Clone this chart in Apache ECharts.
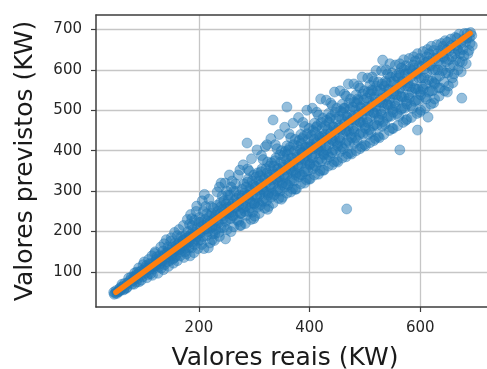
<!DOCTYPE html>
<html>
<head>
<meta charset="utf-8">
<script src="https://cdn.jsdelivr.net/npm/echarts@6/dist/echarts.min.js"></script>
<style>
  html, body { margin: 0; padding: 0; background: #fff; }
  #chart { width: 487px; height: 369px; }
</style>
</head>
<body>
<div id="chart"></div>
<script>
// Real (x) vs predicted (y) power, in KW, grouped by stretches of the real value
const obsLow = [
  [47,45],[50,54],[46,50],[53,51],[58,62],[55,52],[59,56],[52,47],[56,58],[49,48],[57,53],
  [62,64],[65,58],[61,70],[68,67],[73,85],[70,62],[77,74],[66,72],[79,70],[75,79],[64,56],[71,73],[78,88],[69,60],
  [82,88],[87,75],[84,98],[95,92],[91,110],[89,84],[98,88],[81,79],[93,101],[86,92],[99,118],[96,80],[83,70],[90,95],[97,104],[85,86],[92,76],[88,100],
  [104,98],[101,125],[112,118],[108,94],[117,107],[103,110],[115,140],[110,106],[106,86],[119,124],[102,104],[113,96],[109,131],[118,113],[105,116],[116,92],[111,121],[107,109],[114,112],[120,146],
  [123,131],[127,112],[121,150],[134,128],[138,118],[125,124],[131,162],[129,140],[136,106],[122,115],[139,146],[133,136],[126,97],[137,170],[124,138],[130,121],[140,133],[128,127],[135,152],[132,110],[121,119],[138,141],
  [143,148],[147,128],[141,180],[152,161],[158,139],[145,114],[155,150],[149,176],[156,198],[142,138],[159,165],[151,140],[146,155],[154,122],[148,150],[157,172],[144,162],[153,132],[160,154],[150,185],[142,125],[158,158],[147,145],[155,135],
  [163,170],[167,150],[172,215],[178,174],[161,128],[175,190],[169,162],[164,205],[177,145],[171,180],[166,140],[180,200],[162,158],[174,163],[168,188],[179,230],[173,136],[165,175],[176,160],[170,165],[161,190],[178,185],[167,168],[175,150],[172,178],[164,155],
  [182,188],[187,160],[195,250],[183,218],[199,195],[190,175],[184,140],[197,210],[192,228],[186,194],[181,172],[198,158],[189,205],[194,182],[185,242],[191,148],[196,188],[188,215],[200,224],[183,176],[193,198],[187,232],[199,178],[182,160],[190,190],[196,263],[185,186],[192,168]
];

const obsMid = [
  [203,210],[208,250],[214,190],[221,225],[205,168],[218,280],[210,205],[224,212],[201,235],[216,200],[207,188],[212,262],[220,172],[204,224],[223,245],[209,158],[215,218],[202,196],[219,238],[211,230],[206,276],[225,195],[213,207],[217,160],[222,262],[208,215],[203,180],[214,244],[220,208],[210,292],[216,226],[224,180],
  [227,232],[233,265],[240,210],[246,250],[229,195],[237,310],[231,240],[244,232],[248,182],[226,258],[235,222],[242,288],[230,215],[249,268],[238,245],[228,178],[245,210],[233,298],[241,238],[236,198],[250,245],[226,220],[239,272],[232,228],[247,320],[243,255],[234,250],[229,240],[248,225],[237,188],[240,262],[245,276],[231,205],[250,300],
  [252,260],[257,232],[263,300],[270,250],[255,340],[268,282],[251,205],[261,268],[274,215],[259,248],[266,318],[253,278],[272,265],[258,200],[265,258],[256,290],[271,340],[262,238],[254,245],[269,228],[260,325],[273,290],[257,262],[264,276],[275,245],[251,230],[267,300],[263,212],[258,310],[270,272],[255,255],[274,352],[261,240],[266,260],[252,290],[272,225],
  [277,282],[283,250],[289,330],[296,270],[280,365],[294,300],[276,215],[287,290],[299,232],[285,262],[291,350],[278,305],[297,290],[284,220],[290,282],[281,318],[295,380],[286,240],[279,268],[293,258],[288,355],[298,315],[282,276],[292,305],[300,268],[276,245],[294,230],[287,322],[283,295],[299,340],[280,258],[290,250],[285,310],[297,248],[278,288],[292,275],[296,325],[289,290],
  [302,310],[308,270],[314,355],[321,300],[305,402],[319,330],[301,238],[312,318],[324,255],[310,292],[316,378],[303,335],[322,320],[309,245],[315,305],[306,345],[320,410],[311,265],[304,290],[318,282],[313,388],[323,345],[307,302],[317,330],[325,290],[301,270],[319,258],[312,348],[308,325],[324,372],[305,285],[315,275],[310,338],[322,275],[303,312],[317,300],[321,355],[314,312],[306,260],[323,415],
  [327,335],[333,295],[339,382],[346,325],[330,430],[344,355],[326,262],[337,342],[349,280],[335,318],[341,405],[328,362],[347,348],[334,270],[340,330],[331,370],[345,440],[336,290],[329,315],[343,305],[338,415],[348,372],[332,328],[342,356],[350,315],[326,295],[344,282],[337,375],[333,350],[349,400],[330,310],[340,300],[335,362],[347,300],[328,340],[342,325],[346,390],[339,340],[331,285],[345,335],
  [352,360],[358,318],[364,408],[371,350],[355,458],[369,382],[351,285],[362,368],[374,305],[360,342],[366,432],[353,388],[372,372],[359,295],[365,355],[356,398],[370,468],[361,315],[354,340],[368,330],[363,442],[373,400],[357,352],[367,382],[375,340],[351,320],[369,305],[362,402],[358,378],[374,428],[355,335],[365,325],[360,392],[372,325],[353,365],[367,350],[371,415],[364,365],[356,310],[370,362],[359,412],[366,298],
  [377,385],[383,342],[389,435],[396,375],[380,482],[394,408],[376,305],[387,395],[399,330],[385,368],[391,460],[378,412],[397,398],[384,318],[390,380],[381,425],[395,500],[386,340],[379,365],[393,355],[388,470],[398,428],[382,378],[392,408],[400,365],[376,345],[394,328],[387,430],[383,402],[399,455],[380,360],[390,348],[385,418],[397,350],[378,390],[392,375],[396,442],[389,392],[381,335],[395,388],[384,440],[391,320],[398,410],[386,395]
];

const obsHigh = [
  [402,410],[408,365],[414,462],[421,400],[405,505],[419,432],[401,330],[412,420],[424,352],[410,392],[416,488],[403,438],[422,425],[409,340],[415,405],[406,450],[420,528],[411,362],[404,390],[418,380],[413,495],[423,455],[407,405],[417,435],[425,392],[401,368],[419,350],[412,458],[408,428],[424,480],[405,382],[415,372],[410,445],[422,375],[403,415],[417,400],[421,470],[414,418],[406,355],[420,412],[409,468],[416,342],[423,436],[411,408],
  [427,432],[433,390],[439,485],[446,425],[430,525],[444,458],[426,352],[437,442],[449,375],[435,415],[441,512],[428,462],[447,450],[434,362],[440,428],[431,475],[445,545],[436,385],[429,412],[443,402],[438,518],[448,478],[432,428],[442,460],[450,418],[426,390],[444,372],[437,480],[433,452],[449,505],[430,402],[440,395],[435,470],[447,400],[428,440],[442,425],[446,495],[439,445],[431,378],[445,438],[434,492],[441,365],
  [452,455],[458,410],[464,505],[471,448],[455,548],[469,482],[451,372],[462,465],[474,395],[460,440],[466,535],[453,485],[472,475],[459,382],[465,450],[456,498],[470,565],[461,405],[454,432],[468,425],[463,540],[473,502],[457,452],[467,485],[475,440],[451,412],[469,392],[462,505],[458,478],[474,528],[455,425],[465,418],[460,495],[472,420],[453,462],[467,448],[471,518],[464,470],[456,398],[470,462],[459,515],[466,385],
  [477,478],[483,432],[489,525],[496,470],[480,565],[494,505],[476,392],[487,488],[499,415],[485,462],[491,555],[478,508],[497,498],[484,400],[490,472],[481,520],[495,582],[486,425],[479,455],[493,445],[488,560],[498,525],[482,475],[492,508],[500,462],[476,432],[494,410],[487,528],[483,500],[499,548],[480,448],[490,440],[485,518],[497,442],[478,485],[492,470],[496,540],[489,492],[481,418],[495,485],[484,538],[491,405],
  [502,500],[508,452],[514,548],[521,492],[505,580],[519,528],[501,412],[512,512],[524,435],[510,485],[516,572],[503,530],[522,520],[509,420],[515,495],[506,545],[520,598],[511,445],[504,478],[518,465],[513,582],[523,548],[507,498],[517,532],[525,482],[501,455],[519,430],[512,550],[508,522],[524,570],[505,470],[515,462],[510,540],[522,462],[503,508],[517,492],[521,560],[514,515],[506,440],[520,508],[509,562],[516,425],
  [527,520],[533,472],[539,568],[546,512],[530,598],[544,550],[526,432],[537,532],[549,455],[535,505],[541,590],[528,552],[547,540],[534,440],[540,515],[531,565],[545,615],[536,465],[529,498],[543,485],[538,600],[548,570],[532,518],[542,552],[550,502],[526,475],[544,450],[537,572],[533,542],[549,592],[530,490],[540,482],[535,560],[547,485],[528,528],[542,512],[546,582],[539,535],[531,460],[545,528],
  [552,540],[558,492],[564,588],[571,532],[555,612],[569,570],[551,455],[562,552],[574,475],[560,525],[566,605],[553,572],[572,560],[559,462],[565,535],[556,585],[570,625],[561,485],[554,518],[568,505],[563,615],[573,590],[557,538],[567,572],[575,522],[551,495],[569,470],[562,592],[558,562],[574,610],[555,510],[565,502],[560,580],[572,505],[553,548],[567,532],[571,600],[564,555],
  [577,560],[583,512],[589,605],[596,552],[580,628],[594,590],[576,478],[587,572],[599,495],[585,545],[591,622],[578,590],[597,580],[584,482],[590,555],[581,602],[595,640],[586,505],[579,538],[593,525],[588,632],[598,610],[582,558],[592,592],[600,545],[576,515],[594,492],[587,612],[583,582],[599,628],[580,530],[590,522],[585,598],[597,525],[578,568],[592,552],
  [602,580],[608,532],[614,622],[621,572],[605,645],[619,610],[601,500],[612,592],[624,518],[610,565],[616,640],[603,608],[622,600],[609,505],[615,575],[606,620],[620,658],[611,528],[604,558],[618,548],[613,650],[623,630],[607,580],[617,612],[625,568],[601,538],[619,515],[612,632],[608,602],[624,648],[605,552],[615,545],[610,618],[622,548],
  [627,600],[633,555],[639,640],[646,592],[630,662],[644,628],[626,528],[637,612],[649,545],[635,585],[641,658],[628,628],[647,620],[634,535],[640,598],[631,640],[645,672],[636,555],[629,578],[643,570],[638,665],[648,650],[632,600],[642,632],[650,592],[626,565],[644,548],[637,648],[633,622],[649,668],
  [652,625],[658,580],[664,660],[671,620],[655,676],[669,648],[651,560],[662,640],[674,595],[660,612],[666,678],[653,648],[672,640],[659,568],[665,625],[656,660],[670,688],[661,590],[654,605],[668,600],[663,680],[673,665],[657,632],[667,652],
  [677,650],[683,615],[689,680],[694,660],[680,690],[686,640],[676,620],[691,692],[682,668],[688,648],[678,675],[693,685],[685,690],[679,635],[690,665],[684,678]
];

// Isolated points away from the main cloud
const outliers = [
  [240,320],[287,419],[334,476],[359,508],[467,256],[532,624],[563,402],[595,451],[614,483],[675,530]
];

// Ideal prediction: predicted == real
const identityLine = [[50, 50], [690, 690]];

const xTicks = [200, 400, 600];
const yTicks = [100, 200, 300, 400, 500, 600, 700];

const xRange = [14, 726];
const yRange = [13.6, 735.5];

const chart = echarts.init(document.getElementById('chart'), null, { renderer: 'canvas' });

const tickFont = { fontFamily: 'DejaVu Sans', fontSize: 15, color: '#262626' };
const titleFont = { fontFamily: 'DejaVu Sans', fontSize: 25, color: '#1a1a1a' };
const frame = { color: '#3d3d3d', width: 1.5 };

chart.setOption({
  animation: false,
  backgroundColor: '#ffffff',
  grid: { left: 96, top: 15, width: 394, height: 292, show: false, outerBoundsMode: 'none', containLabel: false },
  xAxis: [
    {
      type: 'value', min: xRange[0], max: xRange[1],
      name: 'Valores reais (KW)', nameLocation: 'middle', nameGap: 39,
      nameTextStyle: { ...titleFont, padding: [0, 16, 0, 0] },
      axisLine: { show: true, lineStyle: frame },
      axisTick: { show: true, length: 5, customValues: xTicks, lineStyle: { color: '#3d3d3d', width: 1.2 } },
      axisLabel: { customValues: xTicks, margin: 14, ...tickFont },
      splitLine: { show: true, lineStyle: { color: '#c6c6c6', width: 1.3 } }
    },
    {
      type: 'value', position: 'top', min: xRange[0], max: xRange[1],
      axisLine: { show: true, lineStyle: frame },
      axisTick: { show: false }, axisLabel: { show: false }, splitLine: { show: false }
    }
  ],
  yAxis: {
    type: 'value', min: yRange[0], max: yRange[1],
    name: 'Valores previstos (KW)', nameLocation: 'middle', nameGap: 58,
    nameTextStyle: titleFont,
    axisLine: { show: true, lineStyle: frame },
    axisTick: { show: true, length: 5, customValues: yTicks, lineStyle: { color: '#3d3d3d', width: 1.2 } },
    axisLabel: { customValues: yTicks, margin: 14, ...tickFont },
    splitLine: { show: true, lineStyle: { color: '#c6c6c6', width: 1.3 } }
  },
  series: [
    {
      type: 'scatter',
      data: obsLow.concat(obsMid, obsHigh, outliers),
      symbol: 'circle',
      symbolSize: 10,
      itemStyle: { color: '#1f77b4', opacity: 0.47, borderColor: '#1f77b4', borderWidth: 0.8 },
      silent: true
    },
    {
      type: 'line',
      data: identityLine,
      symbol: 'none',
      lineStyle: { color: '#ff7f0e', width: 5.5, cap: 'round' },
      silent: true,
      z: 3
    }
  ]
});
</script>
</body>
</html>
